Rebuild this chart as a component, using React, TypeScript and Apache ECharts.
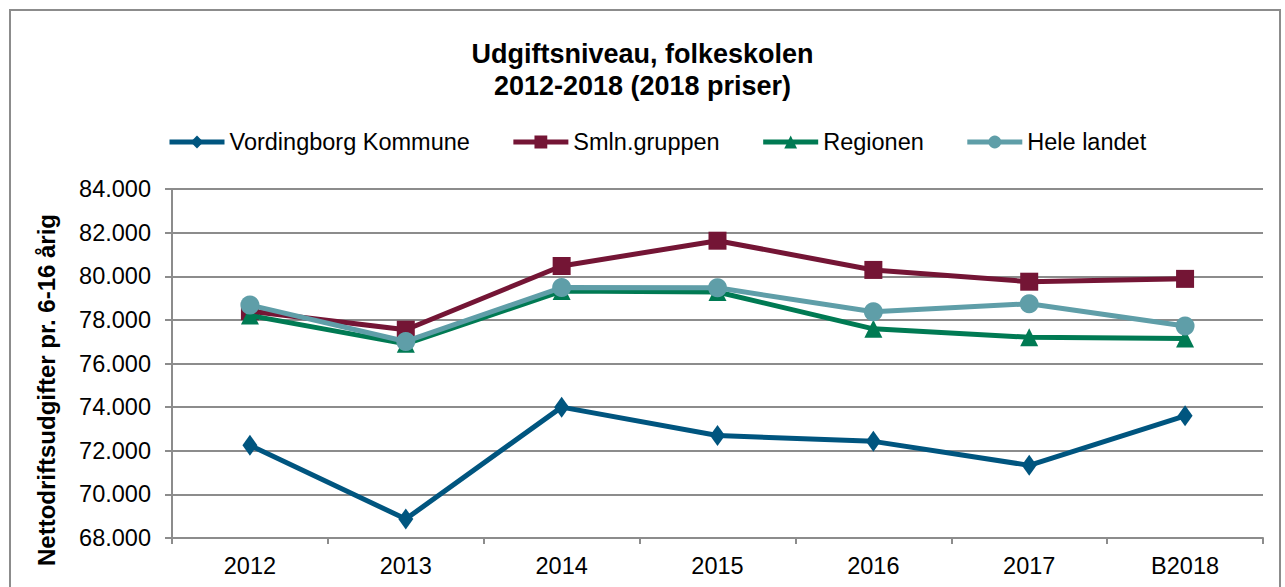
import React, { useEffect, useRef } from "react";
import * as echarts from "echarts";

const categories = ["2012", "2013", "2014", "2015", "2016", "2017", "B2018"];
const vordingborg = [72250, 68870, 74000, 72700, 72430, 71330, 73600];
const smln = [78400, 77550, 80470, 81630, 80290, 79750, 79880];
const regionen = [78200, 76900, 79320, 79280, 77590, 77200, 77150];
const heleLandet = [78680, 77010, 79480, 79470, 78370, 78740, 77720];
const seriesNames = ["Vordingborg Kommune", "Smln.gruppen", "Regionen", "Hele landet"];
const colors = ["#00557f", "#741535", "#007a53", "#5f9ea8"];
const symbols = ["diamond", "rect", "triangle", "circle"];
const symbolSizes: any[] = [[15, 21], 18, 18, 19];
const yAxisName = "Nettodriftsudgifter pr. 6-16 årig";
const titleText = "Udgiftsniveau, folkeskolen\n2012-2018 (2018 priser)";

export default function App() {
  const ref = useRef<HTMLDivElement>(null);
  useEffect(() => {
    if (!ref.current) return;
    const chart = echarts.init(ref.current, undefined, { renderer: "svg" });
    const data = [vordingborg, smln, regionen, heleLandet];
    const font = "Liberation Sans, Arial, sans-serif";
    chart.setOption({
      animation: false,
      backgroundColor: "#ffffff",
      textStyle: { fontFamily: font },
      title: {
        text: titleText,
        left: "center",
        top: 33,
        textStyle: { fontSize: 27, fontWeight: "bold", color: "#000", lineHeight: 32, fontFamily: font },
      },
      legend: {
        top: 125,
        left: 162,
        itemWidth: 55,
        itemHeight: 16,
        itemGap: 41,
        lineStyle: { width: 5 },
        textStyle: { fontSize: 23.5, color: "#000", fontFamily: font },
        data: seriesNames,
      },
      grid: { left: 172, right: 22, top: 189, bottom: 49, containLabel: false },
      xAxis: {
        type: "category",
        data: categories,
        boundaryGap: true,
        axisLine: { lineStyle: { color: "#8c8c8c", width: 2 } },
        axisTick: { show: true, length: 6, lineStyle: { color: "#8c8c8c", width: 2 } },
        axisLabel: { fontSize: 23.5, color: "#000", margin: 16, fontFamily: font },
      },
      yAxis: {
        type: "value",
        min: 68000,
        max: 84000,
        interval: 2000,
        axisLine: { show: true, lineStyle: { color: "#8c8c8c", width: 2 } },
        axisTick: { show: true, length: 7, lineStyle: { color: "#8c8c8c", width: 2 } },
        splitLine: { show: true, lineStyle: { color: "#8c8c8c", width: 2 } },
        axisLabel: {
          fontSize: 23.5,
          color: "#000",
          margin: 21,
          fontFamily: font,
          formatter: (v: number) => (v / 1000).toFixed(3),
        },
      },
      graphic: [
        {
          type: "rect",
          shape: { x: 10, y: 10, width: 1270, height: 600 },
          style: { fill: "none", stroke: "#8c8c8c", lineWidth: 2 },
          silent: true,
        },
        {
          type: "text",
          x: 46,
          y: 390,
          rotation: Math.PI / 2,
          style: {
            text: yAxisName,
            fontSize: 24,
            fontWeight: "bold",
            fontFamily: font,
            fill: "#000",
            textAlign: "center",
            textVerticalAlign: "middle",
          },
        },
      ],
      series: seriesNames.map((name, i) => ({
        name,
        type: "line",
        data: data[i],
        symbol: symbols[i],
        symbolSize: symbolSizes[i],
        showSymbol: true,
        itemStyle: { color: colors[i] },
        lineStyle: { color: colors[i], width: 5 },
        z: 2 + i,
      })),
    });
    return () => chart.dispose();
  }, []);
  return (
    <div
      ref={ref}
      style={{ position: "absolute", left: 0, top: 0, width: 1285, height: 587 }}
    />
  );
}
